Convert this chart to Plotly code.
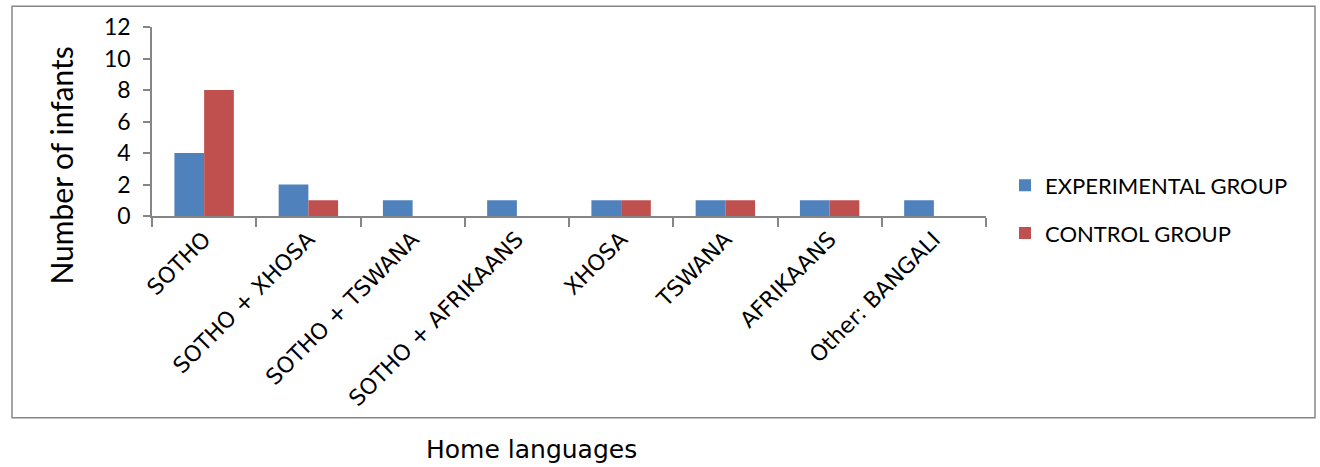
import plotly.graph_objects as go

categories = ["SOTHO", "SOTHO + XHOSA", "SOTHO + TSWANA", "SOTHO + AFRIKAANS",
              "XHOSA", "TSWANA", "AFRIKAANS", "Other: BANGALI"]
experimental = [4, 2, 1, 1, 1, 1, 1, 1]
control = [8, 1, 0, 0, 1, 1, 1, 0]
y_ticks = [0, 2, 4, 6, 8, 10, 12]

W, H = 1320, 467
L, R, T, B = 152, 986, 25, 216
pw, ph = R - L, B - T

def px_x(x):
    return (x - L) / pw

def px_y(y):
    return (B - y) / ph

fig = go.Figure()
fig.add_trace(go.Bar(x=categories, y=experimental, name="EXPERIMENTAL GROUP",
                     marker=dict(color="#4F81BD", line=dict(width=0)),
                     legendgroup="a"))
fig.add_trace(go.Bar(x=categories, y=control, name="CONTROL GROUP",
                     marker=dict(color="#C0504D", line=dict(width=0)),
                     legendgroup="b"))

axis_color = "#868686"
fig.update_layout(
    width=W, height=H,
    margin=dict(l=L, r=W - R, t=T, b=H - B),
    paper_bgcolor="white", plot_bgcolor="white",
    barmode="group", bargap=0.43, bargroupgap=0,
    showlegend=True,
    legend=dict(x=px_x(1005), y=px_y(164), xanchor="left", yanchor="top",
                font=dict(family="Lato, Open Sans, sans-serif", size=22, color="black"),
                tracegroupgap=16, traceorder="grouped", bgcolor="rgba(0,0,0,0)"),
    xaxis=dict(type="category", showline=True, linecolor=axis_color, linewidth=1.5,
               ticks="outside", tickson="boundaries", ticklen=9, tickcolor=axis_color,
               tickwidth=1.5, tickangle=-45, showgrid=False, zeroline=False,
               tickfont=dict(family="DejaVu Sans, sans-serif", size=22, color="black")),
    yaxis=dict(range=[0, 12], tickvals=y_ticks, showline=True, linecolor=axis_color,
               linewidth=1.5, ticks="outside", ticklen=7, tickcolor=axis_color,
               tickwidth=1.5, showgrid=False, zeroline=False, ticklabelstandoff=8,
               tickfont=dict(family="Lato, Open Sans, sans-serif", size=23, color="black")),
)

fig.add_annotation(text="Number of infants", xref="paper", yref="paper",
                   x=px_x(61), y=px_y(165), xanchor="center", yanchor="middle",
                   showarrow=False, textangle=-90,
                   font=dict(family="Lato, Open Sans, sans-serif", size=30, color="black"))
fig.add_annotation(text="Home languages", xref="paper", yref="paper",
                   x=px_x(531), y=px_y(452), xanchor="center", yanchor="middle",
                   showarrow=False,
                   font=dict(family="DejaVu Sans, sans-serif", size=25, color="black"))

fig.add_shape(type="rect", xref="paper", yref="paper",
              x0=px_x(12), x1=px_x(1315), y0=px_y(420), y1=px_y(4),
              line=dict(color="#868686", width=1.5), fillcolor="rgba(0,0,0,0)", layer="below")

fig.write_html("out.html")
